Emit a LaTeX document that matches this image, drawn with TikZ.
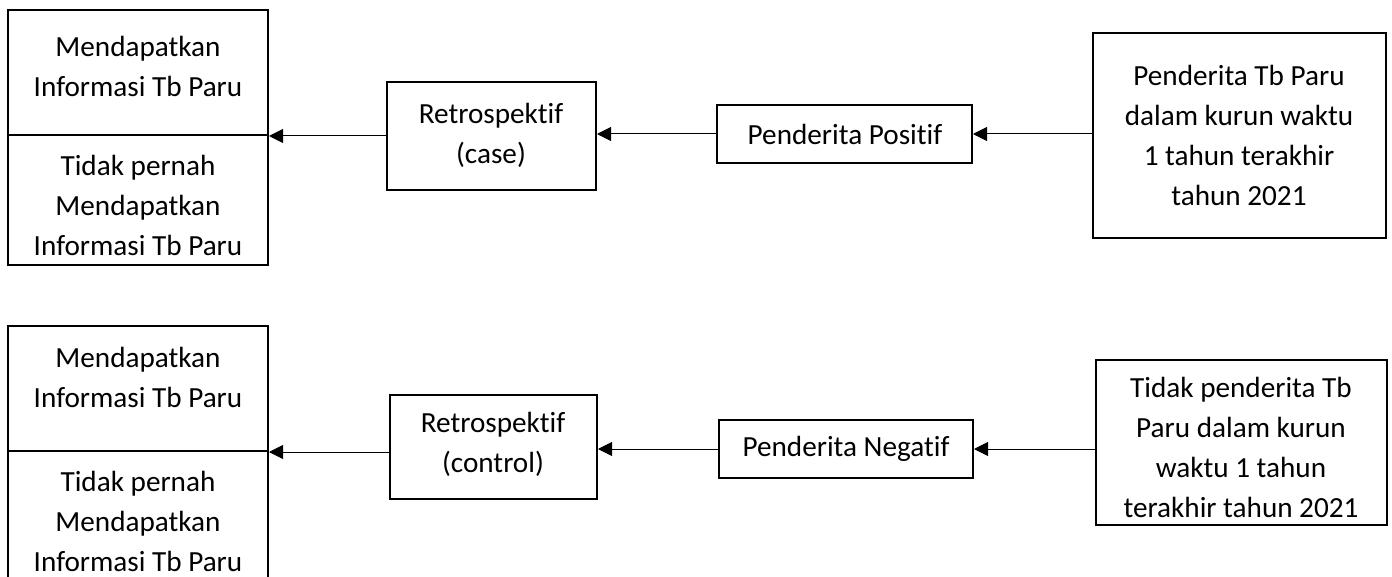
\documentclass[tikz,border=0pt]{standalone}
\usepackage{fontspec}
\setmainfont{Carlito}[Ligatures=NoCommon]
\usetikzlibrary{arrows.meta,fit}
\begin{document}
\begin{tikzpicture}[x=0.5pt,y=-0.5pt,
  box/.style={draw, line width=1pt, inner sep=0pt},
  txt/.style={align=center, font=\fontsize{14.6pt}{20pt}\selectfont, inner sep=0pt},
  conn/.style={line width=0.5pt, -{Triangle[length=7pt,width=7pt]}}]
\useasboundingbox (0,0) rectangle (1392,577);
\clip (0,0) rectangle (1392,577);
% top row
\node[box, fit={(8,10) (268,135)}] (a1) {};
\node[box, fit={(8,135) (268,265)}] (a2) {};
\node[box, fit={(387,82) (596,190)}] (r1) {};
\node[box, fit={(717,105) (972,163)}] (p1) {};
\node[box, fit={(1093,33) (1386,238)}] (s1) {};
\node[txt] (ta1) at (138,66) {Mendapatkan\\Informasi Tb Paru};
\node[txt] (ta2) at (138,205) {Tidak pernah\\Mendapatkan\\Informasi Tb Paru};
\node[txt] (tr1) at (491,135) {Retrospektif\\(case)};
\node[txt] (tp1) at (845,134) {Penderita Positif};
\node[txt] (ts1) at (1239,135) {Penderita Tb Paru\\dalam kurun waktu\\1 tahun terakhir\\tahun 2021};
\draw[conn] (s1.west |- p1.east) -- (p1.east);
\draw[conn] (p1.west) -- (r1.east |- p1.west);
\draw[conn] (r1.west |- a1.south) -- (a1.south east);
% bottom row
\node[box, fit={(8,326) (268,451)}] (b1) {};
\node[box, fit={(8,451) (268,581)}] (b2) {};
\node[box, fit={(390,395) (597,499)}] (r2) {};
\node[box, fit={(719,420) (973,478)}] (p2) {};
\node[box, fit={(1096,360) (1387,525)}] (s2) {};
\node[txt] (tb1) at (138,377) {Mendapatkan\\Informasi Tb Paru};
\node[txt] (tb2) at (138,521) {Tidak pernah\\Mendapatkan\\Informasi Tb Paru};
\node[txt] (tr2) at (493,444) {Retrospektif\\(control)};
\node[txt] (tp2) at (846,449) {Penderita Negatif};
\node[txt] (ts2) at (1241,447) {Tidak penderita Tb\\Paru dalam kurun\\waktu 1 tahun\\terakhir tahun 2021};
\draw[conn] (s2.west |- p2.east) -- (p2.east);
\draw[conn] (p2.west) -- (r2.east |- p2.west);
\draw[conn] (r2.west |- b1.south) -- (b1.south east);
\end{tikzpicture}
\end{document}
